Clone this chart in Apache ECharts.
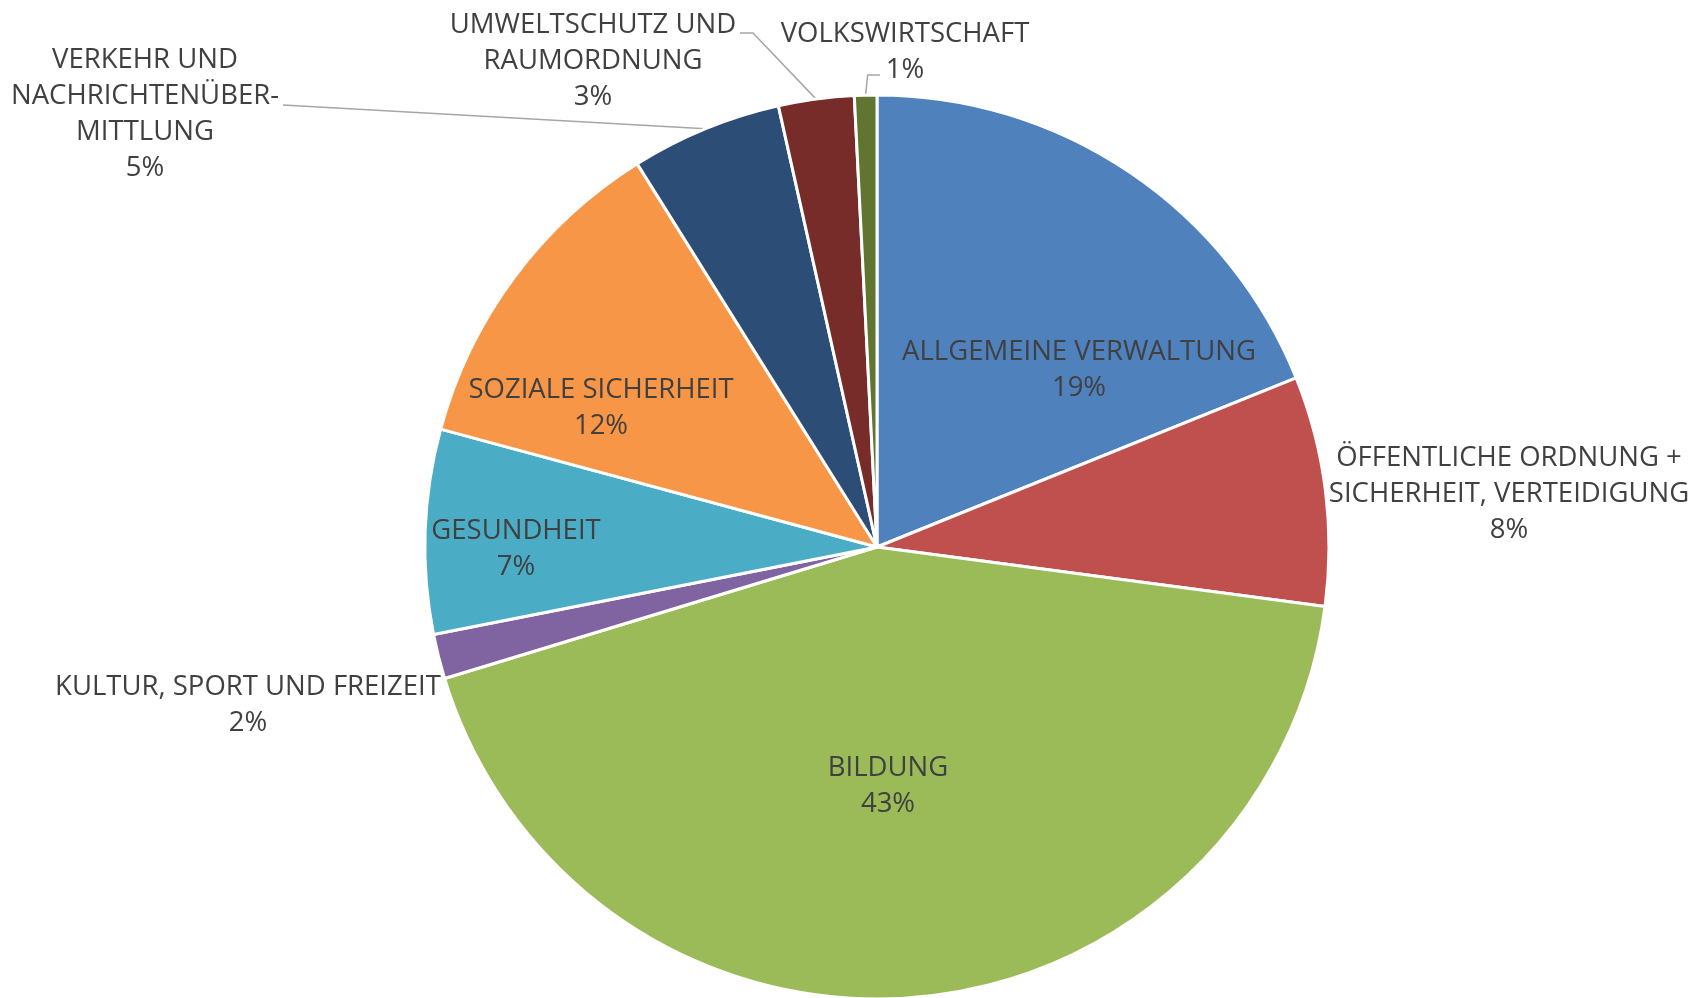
<!DOCTYPE html>
<html>
<head>
<meta charset="utf-8">
<title>Ausgaben nach Aufgabenbereichen</title>
<script src="https://cdn.jsdelivr.net/npm/echarts@6/dist/echarts.min.js"></script>
<style>
  html, body { margin: 0; padding: 0; background: #fff; }
  #chart { width: 1694px; height: 998px; }
</style>
</head>
<body>
<div id="chart"></div>
<script>
// Aufgabenbereiche, im Uhrzeigersinn ab 12 Uhr
var categories = [
  'ALLGEMEINE VERWALTUNG',
  'ÖFFENTLICHE ORDNUNG +\nSICHERHEIT, VERTEIDIGUNG',
  'BILDUNG',
  'KULTUR, SPORT UND FREIZEIT',
  'GESUNDHEIT',
  'SOZIALE SICHERHEIT',
  'VERKEHR UND\nNACHRICHTENÜBER-\nMITTLUNG',
  'UMWELTSCHUTZ UND\nRAUMORDNUNG',
  'VOLKSWIRTSCHAFT'
];
// Anteile in Prozent (aus dem Bild geschaetzt)
var values = [18.9, 8.2, 43.2, 1.6, 7.3, 11.9, 5.4, 2.7, 0.8];

var sliceColors = ['#4F81BD', '#C0504D', '#9BBB59', '#8064A2', '#4BACC6', '#F79646', '#2C4D75', '#772C2A', '#5F7530'];

// Kreis
var pieCenter = [877, 547];
var pieRadius = 452;

// Lage der Beschriftungen (Mitte des Textblocks, px)
var labelPos = [[1079, 370], [1509, 494], [888, 786], [248, 705], [516, 549], [601, 408], [145, 114], [593, 61], [905, 52]];
var insideLabel = [true, false, true, false, true, true, false, false, false];
var leaderLine = [false, false, false, false, false, false, true, true, true];

// Mittelpunkt des Bogens eines Segments (fuer die Fuehrungslinie)
function arcMid(idx) {
  var total = values.reduce(function (a, b) { return a + b; }, 0);
  var before = 0;
  for (var i = 0; i < idx; i++) before += values[i];
  var ang = (before + values[idx] / 2) / total * 2 * Math.PI;
  return [pieCenter[0] + pieRadius * Math.sin(ang), pieCenter[1] - pieRadius * Math.cos(ang)];
}

var chartData = categories.map(function (name, i) {
  return {
    name: name,
    value: values[i],
    itemStyle: { color: sliceColors[i] },
    label: { position: insideLabel[i] ? 'inside' : 'outside' },
    labelLine: { show: leaderLine[i] }
  };
});

var myChart = echarts.init(document.getElementById('chart'));
myChart.setOption({
  backgroundColor: '#ffffff',
  animation: false,
  series: [
    {
      type: 'pie',
      center: pieCenter,
      radius: pieRadius,
      startAngle: 90,
      clockwise: true,
      avoidLabelOverlap: false,
      data: chartData,
      itemStyle: {
        borderColor: '#ffffff',
        borderWidth: 3
      },
      label: {
        show: true,
        color: '#404040',
        fontFamily: 'Open Sans',
        fontSize: 27.5,
        lineHeight: 36,
        align: 'center',
        formatter: function (p) {
          return p.name + '\n' + Math.round(p.percent) + '%';
        }
      },
      labelLine: {
        lineStyle: { color: '#A6A6A6', width: 1.5 }
      },
      labelLayout: function (params) {
        var idx = params.dataIndex;
        var p = labelPos[idx];
        var res = { x: p[0], y: p[1], align: 'center', verticalAlign: 'middle' };
        var s;
        // VERKEHR: lange Linie bis hinter "NACHRICHTENÜBER-"
        if (idx === 6) {
          s = arcMid(idx);
          res.labelLinePoints = [s, [283, 105]];
        }
        // UMWELTSCHUTZ: schraeg hoch bis ans Ende der ersten Zeile
        if (idx === 7) {
          s = arcMid(idx);
          res.labelLinePoints = [s, [753, 33], [740, 33]];
        }
        // VOLKSWIRTSCHAFT: Winkel-Linie links an "1%"
        if (idx === 8) {
          s = arcMid(idx);
          res.labelLinePoints = [s, [s[0] + 2, 75], [880, 75]];
        }
        return res;
      }
    }
  ]
});
</script>
</body>
</html>
